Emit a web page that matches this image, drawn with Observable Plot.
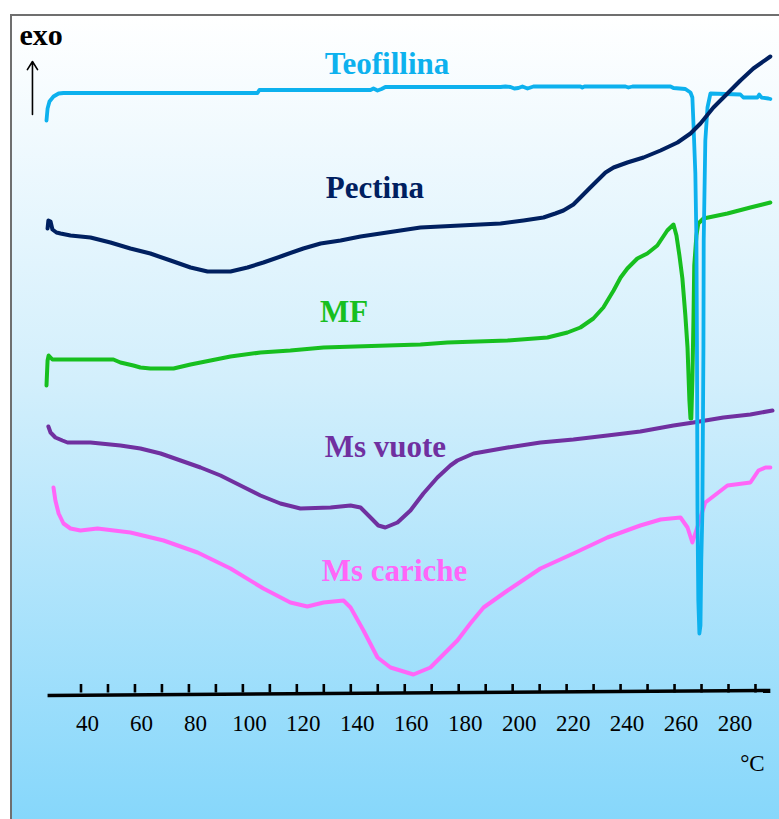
<!DOCTYPE html>
<html>
<head>
<meta charset="utf-8">
<script src="https://cdn.jsdelivr.net/npm/d3@7"></script>
<script src="https://cdn.jsdelivr.net/npm/@observablehq/plot@0.6"></script>
<style>
  html, body { margin: 0; padding: 0; background: #fff; }
  #fig { position: relative; width: 779px; height: 819px; overflow: hidden; background: #fff; }
  #panel {
    position: absolute; left: 10px; top: 14px; width: 790px; height: 805px;
    border-left: 2px solid #6f6f6f; border-top: 2px solid #6f6f6f;
    background: linear-gradient(to bottom, #ffffff 0%, #d3effc 45%, #86d7fb 100%);
  }
  #chart { position: absolute; left: 0; top: 0; }
</style>
</head>
<body>
<div id="fig"><div id="panel"></div><div id="chart"></div></div>
<script>
// DSC thermograms: temperature (°C) vs heat flow (arbitrary units, exo up)

// Tick labels on the temperature axis and minor tick positions
const tickLabels = [40, 60, 80, 100, 120, 140, 160, 180, 200, 220, 240, 260, 280];
const tickMarks = d3.range(40, 291, 10);

// [temperature °C, heat flow] for each sample
const teofillina = [
  [24.8,58.0],[25.2,59.2],[25.9,59.9],[27.4,60.4],[29.3,60.7],[31.1,60.75],[103.0,60.75],[103.7,61.05],
  [144.9,61.05],[146.0,61.2],[147.5,61.0],[149.0,61.15],[150.4,61.35],[193.1,61.35],[194.9,61.4],
  [196.8,61.35],[198.2,61.2],[199.7,61.25],[201.2,61.4],[203.1,61.2],[205.3,61.4],[222.7,61.4],
  [223.4,61.3],[224.2,61.4],[239.4,61.4],[240.5,61.3],[242.0,61.4],[256.1,61.4],[257.2,61.25],
  [261.6,61.15],[262.4,61.0],[263.5,60.8],[264.2,60.3],[264.6,57.7],[265.3,52.7],[265.7,46.0],
  [265.9,35.3],[266.1,18.7],[266.4,10.0],[266.8,6.7],[267.2,7.5],[267.5,14.0],[267.9,18.7],
  [268.3,35.3],[268.4,46.0],[269.0,56.0],[269.8,59.3],[270.9,60.7],[282.0,60.6],[283.1,60.3],
  [288.3,60.3],[289.0,60.6],[289.8,60.3],[292.4,60.2],[293.1,60.15]
];
const pectina = [
  [25.2,47.2],[25.5,48.0],[26.3,47.9],[27.0,47.1],[28.5,46.8],[30.0,46.7],[33.7,46.5],[41.1,46.3],
  [48.5,45.8],[55.9,45.2],[63.3,44.7],[70.8,44.0],[78.2,43.3],[84.5,42.9],[93.0,42.9],[99.3,43.3],
  [105.2,43.8],[112.6,44.5],[120.0,45.2],[126.4,45.7],[133.8,46.0],[141.2,46.4],[148.6,46.7],
  [156.0,47.0],[163.4,47.3],[170.8,47.4],[178.2,47.5],[185.6,47.6],[193.1,47.7],[201.6,48.0],
  [209.0,48.3],[213.4,48.7],[216.4,49.0],[220.1,49.6],[222.7,50.3],[226.0,51.2],[229.0,52.0],
  [232.0,52.8],[235.0,53.3],[240.1,53.8],[246.1,54.3],[252.4,55.0],[258.7,55.8],[263.5,56.7],
  [267.2,57.7],[272.0,59.3],[277.2,60.7],[282.0,62.0],[286.8,63.2],[293.1,64.4]
];
const mf = [
  [24.8,31.5],[25.2,34.0],[25.6,34.5],[26.3,34.3],[27.0,34.1],[30.0,34.1],[49.6,34.1],[52.2,33.8],
  [57.0,33.5],[59.6,33.3],[63.3,33.2],[71.9,33.2],[78.2,33.6],[85.6,34.0],[93.0,34.4],[104.1,34.8],
  [115.2,35.0],[127.5,35.3],[151.2,35.5],[163.4,35.6],[173.4,35.8],[195.7,36.0],[210.5,36.3],
  [217.9,36.8],[222.7,37.3],[227.5,38.2],[231.2,39.3],[235.0,41.0],[237.6,42.3],[240.1,43.2],
  [243.8,44.2],[247.5,44.7],[251.2,45.5],[254.9,47.0],[257.2,47.6],[258.3,46.5],[259.4,44.5],
  [260.5,42.2],[261.6,38.5],[262.4,35.3],[263.1,30.0],[263.5,28.2],[263.8,28.2],[264.2,32.0],
  [264.6,38.0],[264.9,43.5],[265.7,46.5],[266.4,47.7],[268.3,48.2],[277.2,48.7],[285.7,49.3],
  [293.1,49.8]
];
const msVuote = [
  [25.5,27.4],[26.3,26.8],[28.1,26.3],[30.7,26.0],[32.6,25.8],[41.1,25.8],[52.2,25.5],[59.6,25.2],
  [67.1,24.7],[74.5,24.0],[81.9,23.3],[89.3,22.5],[96.7,21.5],[104.1,20.5],[111.5,19.7],[118.9,19.2],
  [130.1,19.3],[137.5,19.5],[141.2,19.3],[144.9,18.3],[147.8,17.5],[150.4,17.3],[154.9,17.8],
  [159.7,19.0],[164.5,20.7],[169.7,22.3],[174.5,23.5],[177.1,24.0],[183.1,24.7],[195.7,25.3],
  [207.9,25.8],[220.1,26.1],[232.7,26.5],[244.9,26.9],[257.2,27.5],[264.6,27.8],[275.7,28.3],
  [285.7,28.6],[293.9,29.0]
];
const msCariche = [
  [27.4,21.3],[28.1,20.0],[29.3,18.7],[31.1,17.7],[33.7,17.2],[37.4,17.0],[43.7,17.2],[55.9,16.8],
  [68.2,16.0],[80.8,14.8],[93.0,13.2],[105.2,11.2],[115.2,9.8],[121.5,9.4],[127.5,9.8],[134.9,10.0],
  [137.5,9.3],[142.3,7.0],[147.5,4.3],[152.3,3.3],[160.8,2.6],[167.1,3.3],[173.4,5.0],[177.1,6.0],
  [181.9,7.7],[186.8,9.3],[195.7,11.0],[207.9,13.2],[220.1,14.7],[232.7,16.3],[244.9,17.5],
  [252.4,18.1],[259.8,18.3],[262.4,17.3],[264.2,15.8],[269.0,19.8],[277.2,21.5],[285.7,21.8],
  [288.7,23.0],[291.3,23.3],[293.1,23.3]
];

const names = ["Teofillina", "Pectina", "MF", "Ms vuote", "Ms cariche"];

// Drawing order (back to front), colours and label anchors
const curves = [
  {name: "MF", data: mf, color: "#17bf1f", width: 4},
  {name: "Ms vuote", data: msVuote, color: "#7030a0", width: 4},
  {name: "Ms cariche", data: msCariche, color: "#ff66f8", width: 4},
  {name: "Teofillina", data: teofillina, color: "#0db1ee", width: 3.8},
  {name: "Pectina", data: pectina, color: "#002060", width: 4}
];
const labelAnchors = {
  "Teofillina": [151.0, 62.7],
  "Pectina": [146.5, 50.3],
  "MF": [135.1, 37.9],
  "Ms vuote": [150.4, 24.4],
  "Ms cariche": [153.8, 12.0]
};
const colorOf = Object.fromEntries(curves.map(c => [c.name, c.color]));
const labels = names.map(n => ({name: n, t: labelAnchors[n][0], h: labelAnchors[n][1], color: colorOf[n]}));

const serif = "'Liberation Serif', 'Times New Roman', serif";

const plot = Plot.plot({
  width: 779,
  height: 819,
  margin: 0,
  style: {background: "transparent", fontFamily: serif, overflow: "visible"},
  x: {type: "linear", domain: [40, 280], range: [87, 734.5], axis: null},
  y: {type: "linear", domain: [0, 60], range: [700, 100], axis: null},
  marks: [
    // temperature axis (drawn slightly tilted)
    Plot.link([{x1: 25.2, y1: 0.5, x2: 293.1, y2: 1.0}], {
      x1: "x1", y1: "y1", x2: "x2", y2: "y2", stroke: "#000", strokeWidth: 3.6
    }),
    Plot.ruleX(tickMarks, {x: d => d, y1: 0.75, y2: 1.6, dx: -6.5, stroke: "#000", strokeWidth: 2.6}),
    Plot.text(tickLabels, {
      x: d => d, y: -3.0, text: d => String(d), lineAnchor: "bottom",
      fontSize: 23, fill: "#000", fontFamily: serif
    }),
    Plot.text(["°C"], {x: 291, y: -7.0, text: d => d, textAnchor: "end", lineAnchor: "bottom", fontSize: 23, fill: "#000"}),
    // exo marker
    Plot.text(["exo"], {x: 14.8, y: 65.6, text: d => d, textAnchor: "start", lineAnchor: "bottom", fontSize: 30, fontWeight: "bold", fill: "#000"}),
    Plot.arrow([{x1: 19.6, y1: 58.6, x2: 19.6, y2: 63.9}], {
      x1: "x1", y1: "y1", x2: "x2", y2: "y2", stroke: "#000", strokeWidth: 1.6, headLength: 9, headAngle: 64
    }),
    // curves
    ...curves.map(c => Plot.line(c.data, {
      x: d => d[0], y: d => d[1], stroke: c.color, strokeWidth: c.width,
      strokeLinejoin: "round", strokeLinecap: "round"
    })),
    // curve names
    Plot.text(labels, {
      x: "t", y: "h", text: "name", fill: "color", lineAnchor: "bottom",
      fontSize: 31, fontWeight: "bold", fontFamily: serif
    })
  ]
});
document.getElementById("chart").appendChild(plot);
</script>
</body>
</html>
